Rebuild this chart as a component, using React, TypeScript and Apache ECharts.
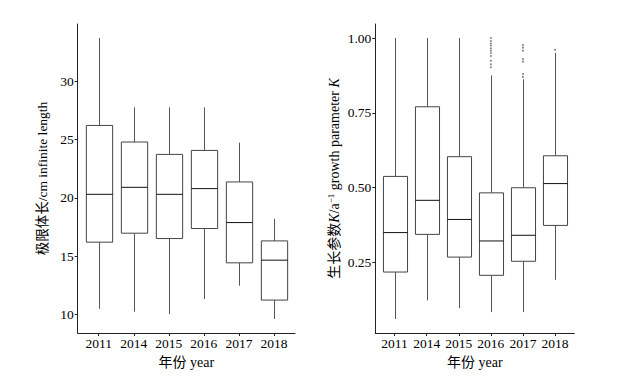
import React, { useEffect, useRef } from "react";
import * as echarts from "echarts";

const years = ["2011", "2014", "2015", "2016", "2017", "2018"];

const lengthMin = [10.5, 10.26, 10.06, 11.34, 12.48, 9.63];
const lengthQ1 = [16.21, 16.98, 16.52, 17.38, 14.44, 11.25];
const lengthMedian = [20.31, 20.91, 20.31, 20.8, 17.89, 14.67];
const lengthQ3 = [26.21, 24.79, 23.73, 24.07, 21.37, 16.32];
const lengthMax = [33.7, 27.75, 27.75, 27.75, 24.73, 18.21];
const lengthTicks = [10, 15, 20, 25, 30];

const kMin = [0.06, 0.122, 0.096, 0.083, 0.083, 0.191];
const kQ1 = [0.217, 0.343, 0.267, 0.206, 0.253, 0.373];
const kMedian = [0.349, 0.457, 0.393, 0.321, 0.34, 0.513];
const kQ3 = [0.537, 0.77, 0.603, 0.482, 0.499, 0.606];
const kMax = [1.0, 1.0, 1.0, 0.875, 0.862, 0.95];
const kTicks = [0.25, 0.5, 0.75, 1.0];

const kOutlier2016 = [1.0, 0.99, 0.982, 0.975, 0.966, 0.958, 0.95, 0.94, 0.924, 0.912, 0.902];
const kOutlier2017 = [0.977, 0.968, 0.958, 0.93, 0.921, 0.88, 0.87];
const kOutlier2018 = [0.961];

const FONT = "'Liberation Serif', 'Times New Roman', 'Noto Sans CJK SC', serif";
const positions = years.map((_, i) => i + 1);

function boxData(mins: number[], q1: number[], med: number[], q3: number[], maxs: number[]) {
  return positions.map((p, i) => [p, mins[i], q1[i], med[i], q3[i], maxs[i]]);
}

function renderBox(params: any, api: any) {
  const x = api.value(0);
  const pMin = api.coord([x, api.value(1)]);
  const pQ1 = api.coord([x, api.value(2)]);
  const pMed = api.coord([x, api.value(3)]);
  const pQ3 = api.coord([x, api.value(4)]);
  const pMax = api.coord([x, api.value(5)]);
  const unit = api.size([1, 0])[0];
  const half = (unit * 0.75) / 2;
  const cx = Math.round(pMed[0]) + 0.5;
  const whisker = { stroke: "#555", lineWidth: 1 };
  return {
    type: "group",
    children: [
      { type: "line", shape: { x1: cx, y1: pMax[1], x2: cx, y2: pQ3[1] }, style: whisker },
      { type: "line", shape: { x1: cx, y1: pQ1[1], x2: cx, y2: pMin[1] }, style: whisker },
      {
        type: "rect",
        shape: { x: cx - half, y: pQ3[1], width: half * 2, height: pQ1[1] - pQ3[1] },
        style: { fill: "#fff", stroke: "#444", lineWidth: 1 },
      },
      {
        type: "line",
        shape: { x1: cx - half, y1: pMed[1], x2: cx + half, y2: pMed[1] },
        style: { stroke: "#111", lineWidth: 1 },
      },
    ],
  };
}

function xAxisDef(gridIndex: number) {
  return {
    type: "value",
    gridIndex,
    min: 0.4,
    max: 6.6,
    name: "年份 year",
    nameLocation: "middle",
    nameGap: 19,
    nameTextStyle: { fontFamily: FONT, fontSize: 14, color: "#000" },
    axisLine: { show: true, lineStyle: { color: "#222", width: 1 } },
    axisTick: { show: true, inside: false, length: 3, customValues: positions, lineStyle: { color: "#222" } },
    axisLabel: {
      customValues: positions,
      margin: 4,
      fontFamily: FONT,
      fontSize: 13.5,
      color: "#000",
      formatter: (v: number) => years[Math.round(v) - 1] ?? "",
    },
    splitLine: { show: false },
  };
}

export default function App() {
  const ref = useRef<HTMLDivElement>(null);
  useEffect(() => {
    if (!ref.current) return;
    const chart = echarts.init(ref.current, null, { renderer: "svg" });
    chart.setOption({
      animation: false,
      backgroundColor: "#fff",
      grid: [
        { left: 77.7, right: 335, top: 24, bottom: 43 },
        { left: 375.3, right: 55.7, top: 24, bottom: 43 },
      ],
      xAxis: [xAxisDef(0), xAxisDef(1)],
      yAxis: [
        {
          type: "value",
          gridIndex: 0,
          min: 8.43,
          max: 34.9,
          name: "极限体长/cm infinite length",
          nameLocation: "middle",
          nameGap: 28,
          nameTextStyle: { fontFamily: FONT, fontSize: 13.5, color: "#000" },
          axisLine: { show: true, lineStyle: { color: "#222", width: 1 } },
          axisTick: { show: true, inside: false, length: 3, customValues: lengthTicks, lineStyle: { color: "#222" } },
          axisLabel: { customValues: lengthTicks, margin: 4, fontFamily: FONT, fontSize: 13.5, color: "#000" },
          splitLine: { show: false },
        },
        {
          type: "value",
          gridIndex: 1,
          min: 0.013,
          max: 1.047,
          name: "生长参数{i|K}/a{sup|−1} growth parameter {i|K}",
          nameLocation: "middle",
          nameGap: 33,
          nameTextStyle: {
            fontFamily: FONT,
            fontSize: 14,
            color: "#000",
            rich: {
              i: { fontFamily: FONT, fontSize: 14, fontStyle: "italic", color: "#000" },
              sup: { fontFamily: FONT, fontSize: 9, color: "#000", padding: [0, 0, 7, 0] },
            },
          },
          axisLine: { show: true, lineStyle: { color: "#222", width: 1 } },
          axisTick: { show: true, inside: false, length: 3, customValues: kTicks, lineStyle: { color: "#222" } },
          axisLabel: {
            customValues: kTicks,
            margin: 4,
            fontFamily: FONT,
            fontSize: 13.5,
            color: "#000",
            formatter: (v: number) => v.toFixed(2),
          },
          splitLine: { show: false },
        },
      ],
      series: [
        {
          type: "custom",
          xAxisIndex: 0,
          yAxisIndex: 0,
          renderItem: renderBox,
          encode: { x: 0, y: [1, 2, 3, 4, 5] },
          data: boxData(lengthMin, lengthQ1, lengthMedian, lengthQ3, lengthMax),
        },
        {
          type: "custom",
          xAxisIndex: 1,
          yAxisIndex: 1,
          renderItem: renderBox,
          encode: { x: 0, y: [1, 2, 3, 4, 5] },
          data: boxData(kMin, kQ1, kMedian, kQ3, kMax),
        },
        {
          type: "scatter",
          xAxisIndex: 1,
          yAxisIndex: 1,
          symbol: "circle",
          symbolSize: 1.8,
          itemStyle: { color: "#555" },
          data: [
            ...kOutlier2016.map((v) => [4, v]),
            ...kOutlier2017.map((v) => [5, v]),
            ...kOutlier2018.map((v) => [6, v]),
          ],
        },
      ],
    });
    return () => chart.dispose();
  }, []);
  return (
    <div
      ref={ref}
      style={{ position: "fixed", left: 0, top: 0, width: 630, height: 376, background: "#fff" }}
    />
  );
}
